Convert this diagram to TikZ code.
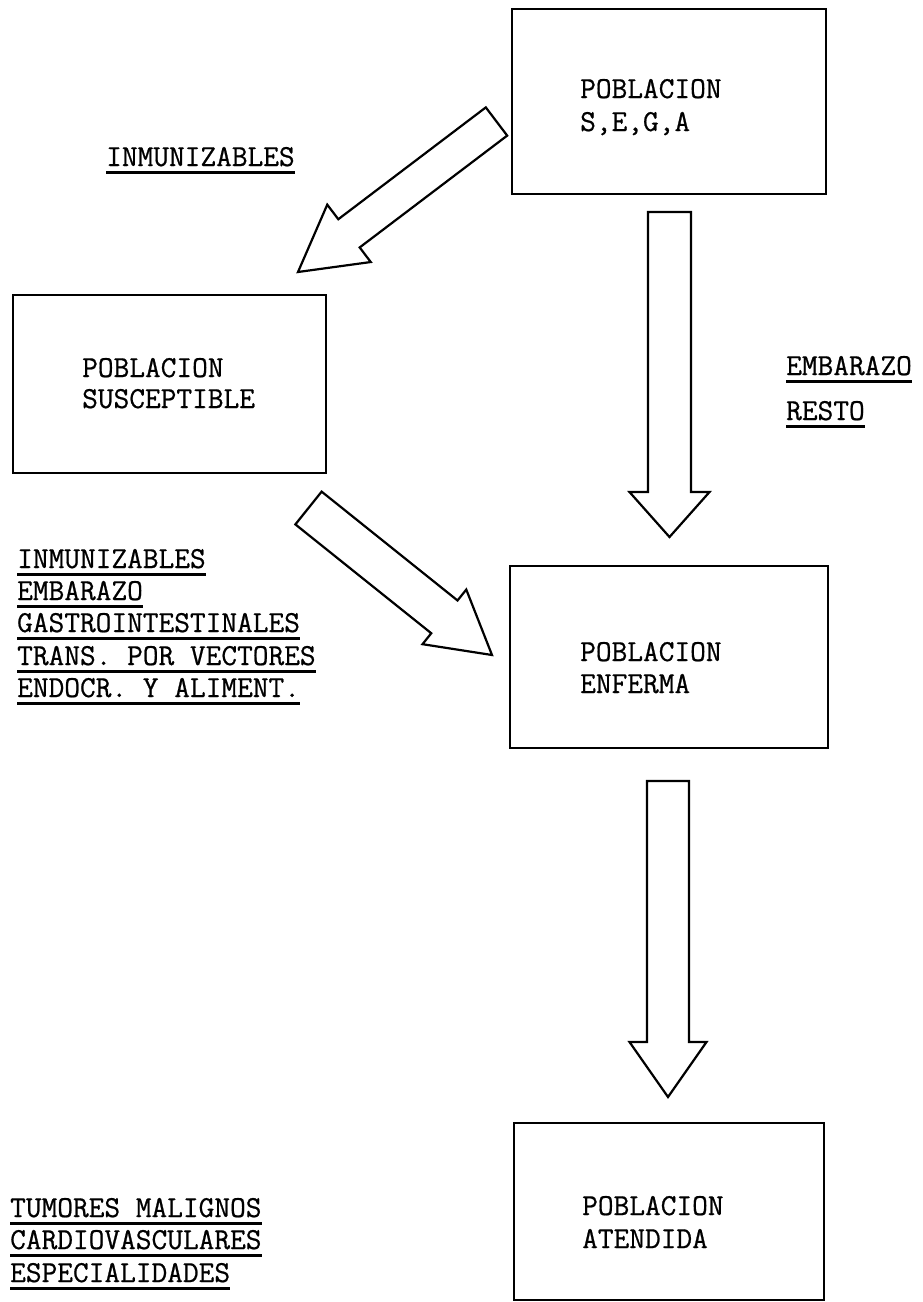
\documentclass[tikz,border=0pt]{standalone}
\usepackage{fontspec}
\newfontfamily\twfont{Latin Modern Mono}[FakeBold=0.7]
\usetikzlibrary{calc}
\tikzset{
  box/.style={draw, line width=2.4pt, inner sep=0pt},
  txt/.style={inner sep=0pt, anchor=base west, font=\fontsize{30.5}{33}\selectfont\twfont},
  uline/.style={line width=3pt},
  barrow/.style={draw, line width=2.2pt, line join=miter},
}
\newcommand\blkarrow[5]{%
  \coordinate (hb) at ($(#2)!#5pt!(#1)$);
  \draw[barrow] ($(#1)!#3pt!90:(#2)$) -- ($(hb)!#3pt!90:(#2)$) -- ($(hb)!#4pt!90:(#2)$) -- (#2)
     -- ($(hb)!#4pt!-90:(#2)$) -- ($(hb)!#3pt!-90:(#2)$) -- ($(#1)!#3pt!-90:(#2)$) -- cycle;}
\newcommand\undl[1]{\draw[uline] ($(#1.base west)+(0,6)$) -- ($(#1.base east)+(0,6)$);}
\begin{document}
\begin{tikzpicture}[x=1pt,y=-1pt]
\useasboundingbox (0,0) rectangle (922,1302);
% boxes
\node[box, minimum width=314pt, minimum height=185pt] (b1) at (669,101.5) {};
\node[box, minimum width=313pt, minimum height=178pt] (b2) at (169.5,384) {};
\node[box, minimum width=318pt, minimum height=182pt] (b3) at (669,657) {};
\node[box, minimum width=310pt, minimum height=177pt] (b4) at (669,1211.5) {};
% box texts
\node[txt] (t1a) at (580,98) {POBLACION};
\node[txt] (t1b) at (580,131) {S,E,G,A};
\node[txt] (t2a) at (82,377) {POBLACION};
\node[txt] (t2b) at (82,408) {SUSCEPTIBLE};
\node[txt] (t3a) at (580,661) {POBLACION};
\node[txt] (t3b) at (580,693) {ENFERMA};
\node[txt] (t4a) at (582,1215) {POBLACION};
\node[txt] (t4b) at (582,1248) {ATENDIDA};
% labels
\node[txt] (l1) at (106,166) {INMUNIZABLES}; \undl{l1}
\node[txt] (l2) at (786,375) {EMBARAZO}; \undl{l2}
\node[txt] (l3) at (786,420) {RESTO}; \undl{l3}
\node[txt] (m1) at (17,568) {INMUNIZABLES}; \undl{m1}
\node[txt] (m2) at (17,600) {EMBARAZO}; \undl{m2}
\node[txt] (m3) at (17,632) {GASTROINTESTINALES}; \undl{m3}
\node[txt] (m4) at (17,665) {TRANS. POR VECTORES}; \undl{m4}
\node[txt] (m5) at (17,697) {ENDOCR. Y ALIMENT.}; \undl{m5}
\node[txt] (n1) at (10,1217) {TUMORES MALIGNOS}; \undl{n1}
\node[txt] (n2) at (10,1249) {CARDIOVASCULARES}; \undl{n2}
\node[txt] (n3) at (10,1282) {ESPECIALIDADES}; \undl{n3}
% block arrows
\coordinate (a1t) at (496.5,121.5); \coordinate (a1p) at (298,272);
\blkarrow{a1t}{a1p}{17.7}{36}{64}
\coordinate (a2t) at (308.5,508); \coordinate (a2p) at (492,655);
\blkarrow{a2t}{a2p}{21}{35}{61}
\coordinate (a3t) at (669.5,212); \coordinate (a3p) at (669.5,537);
\blkarrow{a3t}{a3p}{21.5}{40}{45}
\coordinate (a4t) at (668,781); \coordinate (a4p) at (668,1097);
\blkarrow{a4t}{a4p}{21}{38.5}{55}
\end{tikzpicture}
\end{document}
